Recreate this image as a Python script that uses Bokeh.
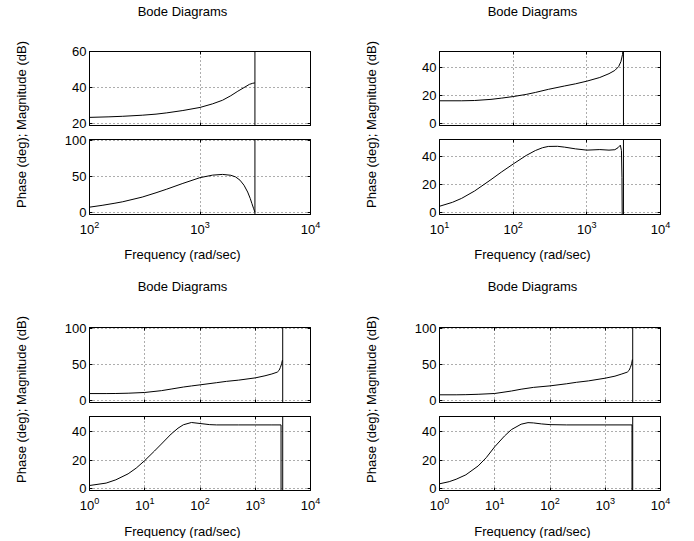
from bokeh.plotting import figure
from bokeh.layouts import row, column
from bokeh.models import Span, Label, LinearAxis, LogAxis, FixedTicker, Range1d, CustomJSTickFormatter
from bokeh.embed import file_html
from bokeh.resources import INLINE
from bokeh.core.validation import silence
from bokeh.core.validation.warnings import MISSING_RENDERERS

silence(MISSING_RENDERERS, True)

# ---------------- data ----------------
nyquist = 3141.6  # rad/sec, vertical line in every panel

# Plot 1 (top-left)
w1_mag = [100, 150, 200, 300, 400, 500, 700, 1000, 1300, 1600, 1900, 2200, 2500, 2800, 3000, 3140]
mag1 = [23.5, 23.8, 24.1, 24.7, 25.3, 26.0, 27.3, 29.0, 31.0, 33.0, 35.5, 38.0, 40.0, 41.8, 42.4, 42.6]
w1_ph = [100, 130, 170, 200, 300, 400, 500, 700, 1000, 1300, 1600, 1900, 2100, 2300, 2500, 2700, 2850, 2950, 3050, 3142]
ph1 = [7, 9.5, 12.5, 14.5, 21, 27, 32, 40, 48, 51.5, 52.5, 51.3, 49, 44.5, 37.5, 28, 19, 12, 5.5, 0]

# Plot 2 (top-right)
w2_mag = [10, 20, 30, 50, 70, 100, 150, 200, 300, 500, 700, 1000, 1500, 2000, 2400, 2700, 2900, 3050, 3142]
mag2 = [16.3, 16.3, 16.5, 17.3, 18.2, 19.3, 20.8, 22.2, 24.4, 26.8, 28.3, 30.2, 32.8, 35.5, 37.8, 40.5, 44.0, 49.0, 56.0]
w2_ph = [10, 15, 20, 30, 50, 70, 100, 150, 200, 250, 300, 400, 500, 700, 1000, 1500, 2000, 2400, 2650, 2850, 2950, 3000, 3020]
ph2 = [4.7, 7.5, 10.3, 15.5, 23.5, 29.0, 34.5, 40.5, 44.0, 46.0, 46.9, 47.0, 46.4, 45.2, 44.3, 44.7, 44.3, 44.6, 46.0, 47.8, 44.0, 25.0, -2.0]

# Plot 3 (bottom-left)
w3_mag = [1, 2, 3, 5, 10, 20, 30, 50, 70, 100, 200, 300, 500, 1000, 1500, 2000, 2500, 2700, 2850, 3000, 3100]
mag3 = [10.0, 10.0, 10.1, 10.5, 11.5, 14.0, 16.2, 19.0, 20.5, 22.0, 25.0, 26.8, 28.5, 31.6, 34.5, 37.0, 39.5, 42.0, 46.0, 51.0, 56.0]
w3_ph = [1, 2, 3, 5, 7, 10, 15, 20, 30, 40, 50, 70, 100, 150, 200, 500, 1000, 2000, 2930, 2931]
ph3 = [2.3, 4.0, 6.3, 10.5, 14.5, 19.8, 26.5, 31.4, 38.4, 42.5, 44.9, 46.5, 45.8, 45.0, 44.8, 44.8, 44.8, 44.8, 44.8, -2.0]

# Plot 4 (bottom-right)
w4_mag = [1, 2, 3, 5, 10, 20, 30, 50, 100, 200, 300, 500, 1000, 1500, 2000, 2500, 2700, 2850, 3000, 3100]
mag4 = [8.3, 8.3, 8.5, 9.0, 10.1, 13.5, 16.0, 18.5, 20.6, 23.5, 25.5, 27.5, 31.2, 34.0, 37.0, 39.5, 42.0, 46.0, 51.0, 57.0]
w4_ph = [1, 1.5, 2, 3, 5, 7, 10, 15, 20, 30, 40, 50, 70, 100, 200, 1000, 3050, 3051]
ph4 = [3.5, 5.0, 6.7, 9.8, 16.0, 21.8, 29.5, 37.0, 41.5, 45.3, 46.4, 46.2, 45.5, 45.0, 44.8, 44.8, 44.8, -2.0]

# axis ranges and ticks
x_ranges = [(100, 1e4), (10, 1e4), (1, 1e4), (1, 1e4)]
x_ticks = [[100, 1000, 10000], [10, 100, 1000, 10000],
           [1, 10, 100, 1000, 10000], [1, 10, 100, 1000, 10000]]
mag_ranges = [(19, 60), (-1.2, 51.2), (-2.3, 101), (-2.3, 101)]
mag_ticks = [[20, 40, 60], [0, 20, 40], [0, 50, 100], [0, 50, 100]]
ph_ranges = [(-3.2, 101), (-1.1, 51.8), (-1.2, 50.7), (-1.2, 50.7)]
ph_ticks = [[0, 50, 100], [0, 20, 40], [0, 20, 40], [0, 20, 40]]

title_text = "Bode Diagrams"
x_label_text = "Frequency (rad/sec)"
y_label_text = "Phase (deg); Magnitude (dB)"

FONT = "Liberation Sans"
FS = "13px"
FRAME_W = 221


def hidden_axis(cls, ticks):
    return cls(ticker=FixedTicker(ticks=ticks, minor_ticks=[]),
               formatter=CustomJSTickFormatter(code="return ''"),
               major_tick_in=3, major_tick_out=0, minor_tick_in=0, minor_tick_out=0,
               major_label_text_font_size="1px", major_label_standoff=0,
               axis_line_color="black", major_tick_line_color="black")


def make_panel(xr, yr, xt, yt, fh, top, bottom, left, right, show_x):
    p = figure(x_axis_type="log", x_range=Range1d(*xr), y_range=Range1d(*yr),
               frame_width=FRAME_W, frame_height=fh,
               min_border_top=top, min_border_bottom=bottom,
               min_border_left=left, min_border_right=right,
               x_axis_location=("below" if show_x else None),
               toolbar_location=None, output_backend="svg")
    p.background_fill_color = "white"
    p.border_fill_color = "white"
    p.outline_line_color = "black"
    p.outline_line_width = 1

    ya = p.yaxis[0]
    ya.ticker = FixedTicker(ticks=yt, minor_ticks=[])
    axes = [ya]
    if show_x:
        xa = p.xaxis[0]
        xa.ticker = FixedTicker(ticks=xt, minor_ticks=[])
        xa.major_label_standoff = 6
        axes.append(xa)
    else:
        p.add_layout(hidden_axis(LogAxis, xt), "below")
    for ax in axes:
        ax.major_tick_in = 3
        ax.major_tick_out = 0
        ax.minor_tick_in = 0
        ax.minor_tick_out = 0
        ax.axis_line_color = "black"
        ax.major_tick_line_color = "black"
        ax.major_label_text_font = FONT
        ax.major_label_text_font_size = FS
        ax.major_label_text_color = "black"
    ya.major_label_standoff = 3

    p.add_layout(hidden_axis(LogAxis, xt), "above")
    p.add_layout(hidden_axis(LinearAxis, yt), "right")

    p.xgrid.ticker = FixedTicker(ticks=xt, minor_ticks=[])
    p.ygrid.ticker = FixedTicker(ticks=yt, minor_ticks=[])
    p.grid.grid_line_color = "#333333"
    p.grid.grid_line_alpha = 0.8
    p.grid.grid_line_dash = "1 3"
    p.grid.grid_line_width = 1
    return p


def make_text_fig(w, h, x, y, text, angle=0):
    tf = figure(width=w, height=h, min_border=0, toolbar_location=None,
                output_backend="svg", x_axis_location=None, y_axis_location=None)
    tf.outline_line_color = None
    tf.background_fill_color = "white"
    tf.border_fill_color = "white"
    tf.grid.visible = False
    tf.add_layout(Label(x=x, y=y, x_units="screen", y_units="screen", text=text,
                        angle=angle, angle_units="deg", text_align="center",
                        text_baseline=("middle" if angle else "alphabetic"),
                        text_font=FONT, text_font_size=FS, text_color="black"))
    return tf


mag_w = [w1_mag, w2_mag, w3_mag, w4_mag]
mag_v = [mag1, mag2, mag3, mag4]
ph_w = [w1_ph, w2_ph, w3_ph, w4_ph]
ph_v = [ph1, ph2, ph3, ph4]

# layout geometry (pixels)
col_geo = [dict(lw=34, left=55, right=37, lx=20.5), dict(lw=36, left=56, right=30, lx=24)]
row_geo = [
    dict(th=40, ty=29, mag=(11, 74, 7), ph=(7, 75, 26), xh=30, xy=16, ly=146),
    dict(th=46, ty=30, mag=(11, 75, 7), ph=(7, 74, 26), xh=22, xy=7, ly=139),
]

quads = []
for i in range(4):
    r, c = divmod(i, 2)
    cg, rg = col_geo[c], row_geo[r]
    pw = cg["left"] + FRAME_W + cg["right"]
    mt, mh, mb = rg["mag"]
    pt, ph_, pb = rg["ph"]
    total_h = rg["th"] + mt + mh + mb + pt + ph_ + pb + rg["xh"]
    pm = make_panel(x_ranges[i], mag_ranges[i], x_ticks[i], mag_ticks[i], mh, mt, mb,
                    cg["left"], cg["right"], False)
    pp = make_panel(x_ranges[i], ph_ranges[i], x_ticks[i], ph_ticks[i], ph_, pt, pb,
                    cg["left"], cg["right"], True)
    pm.line(mag_w[i], mag_v[i], line_color="black", line_width=1)
    pp.line(ph_w[i], ph_v[i], line_color="black", line_width=1)
    for p in (pm, pp):
        p.add_layout(Span(location=nyquist, dimension="height", line_color="black", line_width=1))
    # text figures: their frames are aligned with the panel frames by the column layout
    tfig = make_text_fig(pw, rg["th"], 93, rg["ty"], title_text)
    xfig = make_text_fig(pw, rg["xh"], 93, rg["xy"], x_label_text)
    yfig = make_text_fig(cg["lw"], total_h, cg["lx"], rg["ly"], y_label_text, angle=90)
    quads.append(row(yfig, column(tfig, pm, pp, xfig)))

layout = column(row(quads[0], quads[1]), row(quads[2], quads[3]))

with open("out.html", "w") as f:
    f.write(file_html(layout, INLINE))
